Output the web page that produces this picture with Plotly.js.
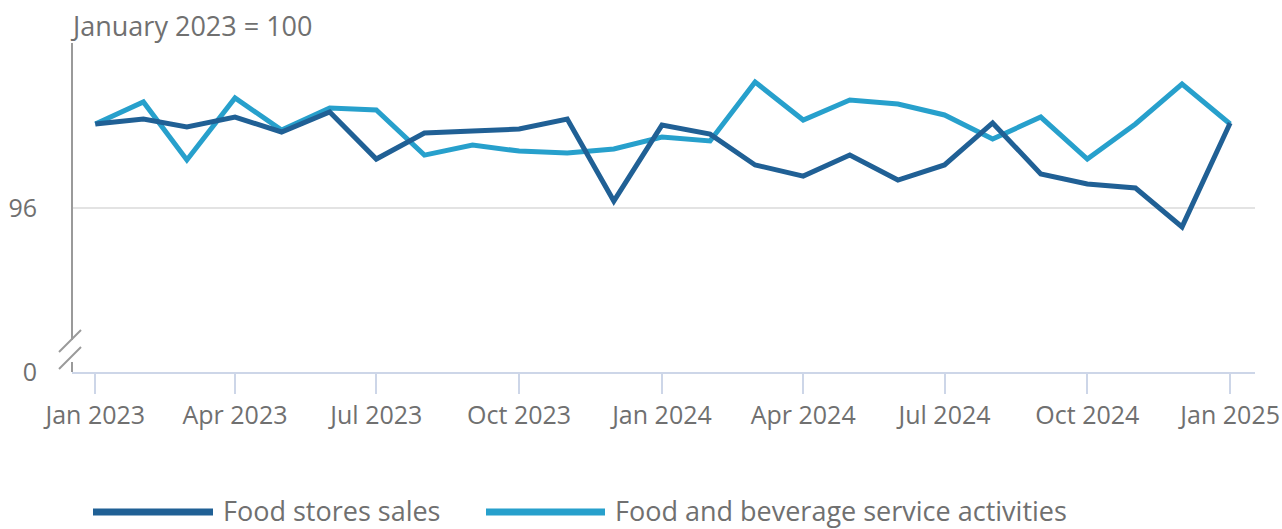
<!DOCTYPE html>
<html>
<head>
<meta charset="utf-8">
<script src="https://cdn.plot.ly/plotly-3.0.1.min.js"></script>
<style>html,body{margin:0;padding:0;background:#fff;}#chart{width:1282px;height:529px;}</style>
</head>
<body>
<div id="chart"></div>
<script>
// ---- data ----
const months = ["2023-01-01","2023-02-01","2023-03-01","2023-04-01","2023-05-01","2023-06-01","2023-07-01","2023-08-01","2023-09-01","2023-10-01","2023-11-01","2023-12-01",
  "2024-01-01","2024-02-01","2024-03-01","2024-04-01","2024-05-01","2024-06-01","2024-07-01","2024-08-01","2024-09-01","2024-10-01","2024-11-01","2024-12-01","2025-01-01"];
const foodStores = [100.0,100.24,99.86,100.33,99.62,100.57,98.33,99.57,99.67,99.76,100.24,96.33,
  99.95,99.52,98.05,97.52,98.52,97.33,98.05,100.05,97.62,97.14,96.95,95.10,100.05];
const foodBeverage = [100.0,101.05,98.29,101.24,99.71,100.76,100.67,98.52,99.0,98.71,98.62,98.81,
  99.38,99.19,102.0,100.19,101.14,100.95,100.43,99.29,100.33,98.33,100.0,101.9,100.0];
const seriesNames = ["Food stores sales","Food and beverage service activities"];
const xTickVals = ["2023-01-01","2023-04-01","2023-07-01","2023-10-01","2024-01-01","2024-04-01","2024-07-01","2024-10-01","2025-01-01"];
const xTickText = ["Jan 2023","Apr 2023","Jul 2023","Oct 2023","Jan 2024","Apr 2024","Jul 2024","Oct 2024","Jan 2025"];
const yBreakBottom = 88.19;   // value position where the broken axis shows "0"
const yTickVals = [yBreakBottom, 96];
const yTickText = ["0", "96"];

// ---- style ----
const DARK = "#206095", LIGHT = "#27a0cc", TEXT = "#707070", AXIS = "#9a9a9a";
const FONT = "Open Sans, sans-serif";
const L = 72, R = 27, T = 43, B = 157, W = 1282, H = 529;
const PW = W - L - R, PH = H - T - B;
const px = x => (x - L) / PW;          // page pixel -> paper x
const py = y => (H - B - y) / PH;      // page pixel -> paper y

const traces = [
  {x: months, y: foodBeverage, name: seriesNames[1], type: "scatter", mode: "lines",
   line: {color: LIGHT, width: 5}, hoverinfo: "skip"},
  {x: months, y: foodStores, name: seriesNames[0], type: "scatter", mode: "lines",
   line: {color: DARK, width: 5}, hoverinfo: "skip"}
];

function axShape(x0, y0, x1, y1, color, width) {
  return {type: "line", xref: "paper", yref: "paper", xsizemode: "pixel", ysizemode: "pixel",
    xanchor: 0, yanchor: 0, x0: x0, y0: y0, x1: x1, y1: y1, line: {color: color, width: width}};
}

const shapes = [
  // broken y axis line
  {type: "line", xref: "paper", yref: "paper", x0: 0, x1: 0, y0: 32 / PH, y1: 1, line: {color: AXIS, width: 2}},
  axShape(0, 0, 0, 10, AXIS, 2),
  axShape(-13, 20, 9, 42, AXIS, 2),
  axShape(-13, 3, 9, 25, AXIS, 2),
  // legend swatches
  {type: "line", xref: "paper", yref: "paper", x0: px(93), x1: px(213), y0: py(512), y1: py(512), line: {color: DARK, width: 7}},
  {type: "line", xref: "paper", yref: "paper", x0: px(486), x1: px(605), y0: py(512), y1: py(512), line: {color: LIGHT, width: 7}}
];

const annotations = [
  {text: "January 2023 = 100", xref: "paper", yref: "paper", x: 0, xshift: -4, y: py(26), xanchor: "left", yanchor: "middle",
   showarrow: false, font: {family: FONT, size: 27, color: TEXT}},
  {text: seriesNames[0], xref: "paper", yref: "paper", x: px(224), xshift: -3, y: py(510), xanchor: "left", yanchor: "middle",
   showarrow: false, font: {family: FONT, size: 27, color: TEXT}},
  {text: seriesNames[1], xref: "paper", yref: "paper", x: px(616), xshift: -3, y: py(510), xanchor: "left", yanchor: "middle",
   showarrow: false, font: {family: FONT, size: 27, color: TEXT}}
];

const layout = {
  width: W, height: H,
  margin: {l: L, r: R, t: T, b: B, pad: 0},
  paper_bgcolor: "#fff", plot_bgcolor: "#fff",
  showlegend: false,
  font: {family: FONT, size: 25, color: TEXT},
  xaxis: {
    type: "date", range: ["2022-12-17", "2025-01-17"],
    tickmode: "array", tickvals: xTickVals, ticktext: xTickText,
    showgrid: false, zeroline: false,
    showline: true, linecolor: "#cdd6e8", linewidth: 2,
    ticks: "outside", ticklen: 20, tickwidth: 2, tickcolor: "#cdd6e8",
    tickfont: {family: FONT, size: 25, color: TEXT}, fixedrange: true
  },
  yaxis: {
    range: [yBreakBottom, 96 + (208 - 43) / 21],
    tickmode: "array", tickvals: yTickVals, ticktext: yTickText,
    showgrid: true, gridcolor: "#e3e3e3", gridwidth: 2, zeroline: false,
    showline: false, ticks: "", ticklabelstandoff: 34,
    tickfont: {family: FONT, size: 25, color: TEXT}, fixedrange: true
  },
  shapes: shapes,
  annotations: annotations
};

Plotly.newPlot("chart", traces, layout, {displayModeBar: false, staticPlot: true});
</script>
</body>
</html>
